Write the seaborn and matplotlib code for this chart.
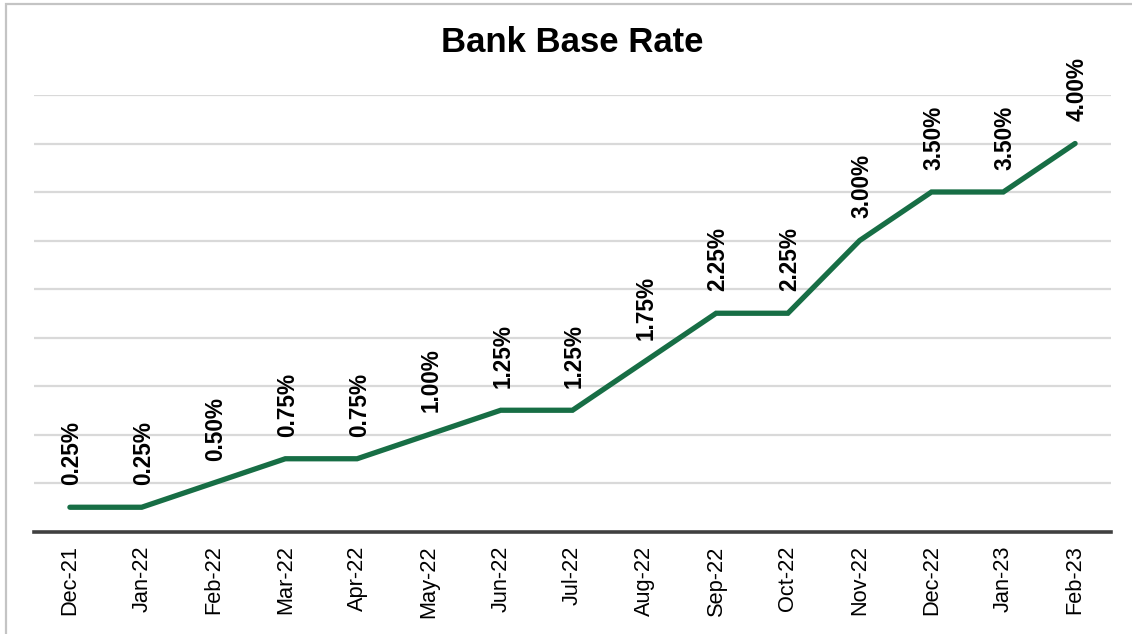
import matplotlib
matplotlib.use("Agg")
import matplotlib.pyplot as plt
from matplotlib.patches import Rectangle
import seaborn as sns
import pandas as pd

months = ["Dec-21", "Jan-22", "Feb-22", "Mar-22", "Apr-22", "May-22", "Jun-22",
          "Jul-22", "Aug-22", "Sep-22", "Oct-22", "Nov-22", "Dec-22", "Jan-23", "Feb-23"]
rates = [0.25, 0.25, 0.50, 0.75, 0.75, 1.00, 1.25, 1.25, 1.75, 2.25, 2.25,
         3.00, 3.50, 3.50, 4.00]
gridline_values = [0.5, 1.0, 1.5, 2.0, 2.5, 3.0, 3.5, 4.0, 4.5]

sns.set_theme(style="white")
plt.rcParams["font.family"] = ["Liberation Sans", "DejaVu Sans"]

df = pd.DataFrame({"month": months, "rate": rates})

fig = plt.figure(figsize=(11.32, 6.34), dpi=100)
ax = fig.add_axes([34 / 1132, 1 - 531.5 / 634, (1111 - 34) / 1132, (531.5 - 95) / 634])

# light frame around the chart area
fig.patches.append(Rectangle((6 / 1132, -0.05), 1.2, (634 - 4) / 634 + 0.05,
                             transform=fig.transFigure, fill=False,
                             edgecolor="#c4c4c4", linewidth=1.6, zorder=0))

for g in gridline_values:
    ax.axhline(g, color="#d9d9d9", linewidth=1.6, zorder=1)

sns.lineplot(data=df, x="month", y="rate", sort=False, ax=ax,
             color="#176E45", linewidth=3.8, zorder=3,
             solid_capstyle="round", solid_joinstyle="miter")

for i, (m, r) in enumerate(zip(months, rates)):
    ax.annotate(f"{r:.2f}%", xy=(i, r), xytext=(1.5, 16), textcoords="offset points",
                rotation=90, ha="center", va="bottom", fontsize=16.3,
                fontweight="bold", color="black", zorder=4)

ax.set_xlim(-0.5, len(months) - 0.5)
ax.set_ylim(0, 4.5)
ax.set_yticks([])
ax.set_xlabel("")
ax.set_ylabel("")
ax.tick_params(axis="x", length=0, pad=10, labelsize=15.7, labelcolor="black")
plt.setp(ax.get_xticklabels(), rotation=90)

for s in ["top", "right", "left"]:
    ax.spines[s].set_visible(False)
ax.spines["bottom"].set_color("#404040")
ax.spines["bottom"].set_linewidth(2.6)
ax.spines["bottom"].set_zorder(5)

fig.text(572 / 1132, 1 - 42 / 634, "Bank Base Rate", ha="center", va="center",
         fontsize=25, fontweight="bold", color="black")

fig.savefig("out.png", dpi=100, facecolor="white")
